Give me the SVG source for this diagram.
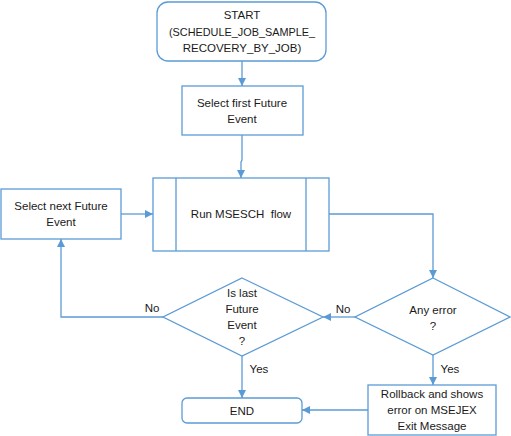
<svg xmlns="http://www.w3.org/2000/svg" width="511" height="436" viewBox="0 0 511 436">
<style>
.s{fill:#fff;stroke:#5b9bd5;stroke-width:1.3}
.c{fill:none;stroke:#5b9bd5;stroke-width:1.3}
text{font-family:"Liberation Sans",Arial,sans-serif;font-size:11.5px;fill:#1a1a1a;text-anchor:middle;dominant-baseline:central}
</style>
<defs>
<marker id="a" viewBox="0 0 10 10" refX="10" refY="5" markerWidth="8" markerHeight="8" markerUnits="userSpaceOnUse" orient="auto">
<path d="M0,0 L10,5 L0,10 z" fill="#5b9bd5"/>
</marker>
</defs>
<rect width="511" height="436" fill="#fff"/>
<g id="connectors">
<path class="c" d="M242,61 V86" marker-end="url(#a)"/>
<path class="c" d="M242,135 V160 L241,162 V178" marker-end="url(#a)"/>
<path class="c" d="M121,214 H153" marker-end="url(#a)"/>
<path class="c" d="M329,214 H433 V278" marker-end="url(#a)"/>
<path class="c" d="M355,317 H323" marker-end="url(#a)"/>
<path class="c" d="M163,317 H61 V239" marker-end="url(#a)"/>
<path class="c" d="M242,356 V398" marker-end="url(#a)"/>
<path class="c" d="M433,355 V385" marker-end="url(#a)"/>
<path class="c" d="M368,410 H302" marker-end="url(#a)"/>
<text x="343" y="309">No</text>
<text x="152" y="308">No</text>
<text x="259" y="369">Yes</text>
<text x="450" y="369">Yes</text>
</g>
<g id="start">
<rect class="s" x="157" y="2" width="169" height="59" rx="11"/>
<text x="242" y="15">START</text>
<text x="242" y="32" textLength="146" lengthAdjust="spacingAndGlyphs">(SCHEDULE_JOB_SAMPLE_</text>
<text x="242" y="48">RECOVERY_BY_JOB)</text>
</g>
<g id="select-first">
<rect class="s" x="182" y="86" width="121" height="49"/>
<text x="242" y="103">Select first Future</text>
<text x="242" y="119">Event</text>
</g>
<g id="run">
<rect class="s" x="153" y="178" width="176" height="73"/>
<path class="c" d="M176,178 V251 M306,178 V251"/>
<text x="241" y="214" xml:space="preserve">Run MSESCH  flow</text>
</g>
<g id="select-next">
<rect class="s" x="1" y="189" width="120" height="50"/>
<text x="61" y="206">Select next Future</text>
<text x="61" y="222">Event</text>
</g>
<g id="any-error">
<path class="s" d="M433,278 L510,317 L433,355 L355,317 Z"/>
<text x="433" y="310">Any error</text>
<text x="433" y="326">?</text>
</g>
<g id="is-last">
<path class="s" d="M242,278 L323,317 L242,356 L163,317 Z"/>
<text x="242" y="293">Is last</text>
<text x="242" y="309">Future</text>
<text x="242" y="325">Event</text>
<text x="242" y="341">?</text>
</g>
<g id="end">
<rect class="s" x="182" y="398" width="120" height="25" rx="5"/>
<text x="242" y="411">END</text>
</g>
<g id="rollback">
<rect class="s" x="368" y="385" width="128" height="50"/>
<text x="432" y="394">Rollback and shows</text>
<text x="432" y="410">error on MSEJEX</text>
<text x="432" y="426">Exit Message</text>
</g>
</svg>
